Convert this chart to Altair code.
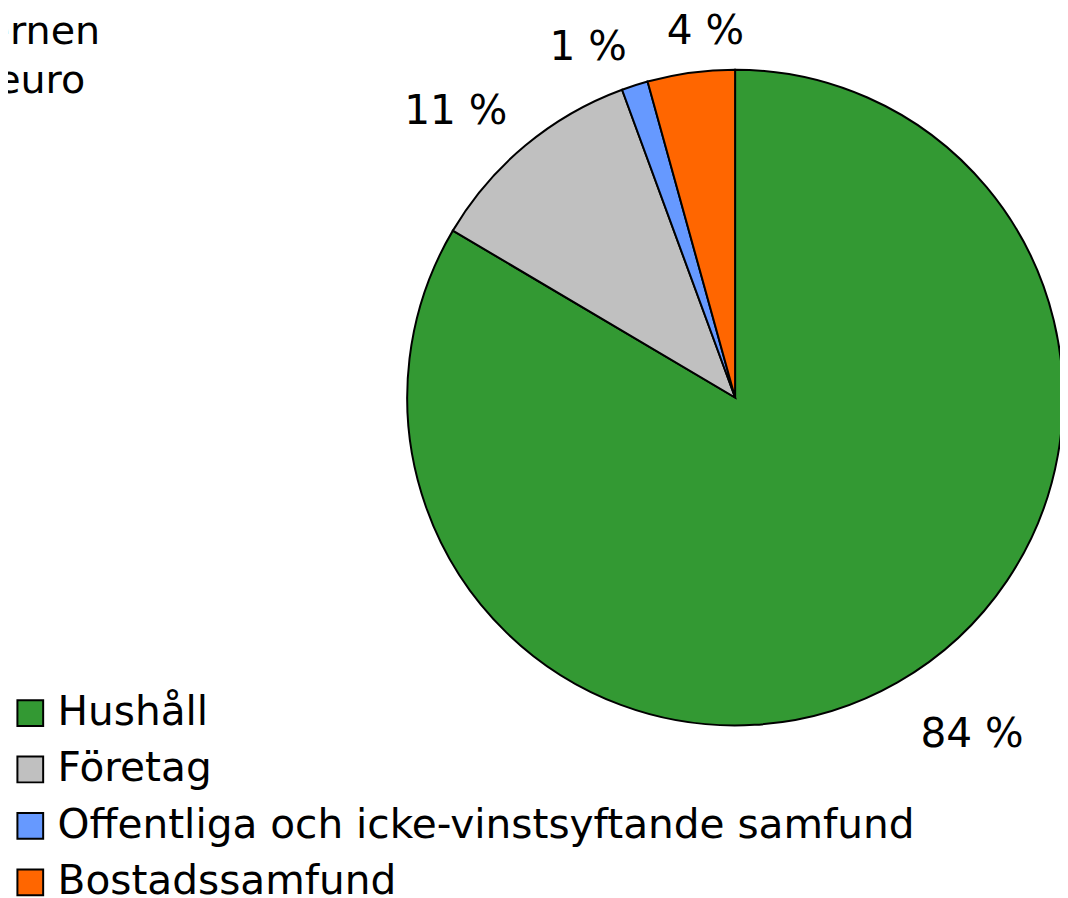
import altair as alt
import pandas as pd

categories = ["Hushåll", "Företag", "Offentliga och icke-vinstsyftande samfund", "Bostadssamfund"]
values = [83.5, 10.9, 1.3, 4.3]
labels = ["84 %", "11 %", "1 %", "4 %"]
colors = ["#339933", "#C0C0C0", "#6699FF", "#FF6600"]
title_lines = ["ernen", "euro"]

df = pd.DataFrame({"cat": categories, "val": values, "lab": labels, "idx": list(range(len(categories)))})

FONT = "DejaVu Sans"
CX, CY, R = 734, 389, 331

color_enc = alt.Color(
    "cat:N",
    scale=alt.Scale(domain=categories, range=colors),
    sort=categories,
    legend=alt.Legend(
        title=None, orient="none", legendX=2, legendY=687, direction="vertical",
        symbolType="square", symbolSize=676, symbolStrokeColor="black", symbolStrokeWidth=2,
        symbolOpacity=1, labelFont=FONT, labelFontSize=41, labelColor="black",
        labelOffset=7, rowPadding=15, padding=0, labelLimit=1000,
    ),
)

base = alt.Chart(df).encode(
    theta=alt.Theta("val:Q", stack=True),
    order=alt.Order("idx:Q"),
    x=alt.value(CX), y=alt.value(CY),
)

pie = base.mark_arc(radius=R, stroke="black", strokeWidth=2).encode(color=color_enc)

offsets = {0: (400, 41, 5), 1: (400, -26, 31), 2: (400, -26, 40), 3: (400, 24, 39)}
text_layers = []
for i, (rad, dx, dy) in offsets.items():
    t = base.transform_calculate(
        show=f"datum.idx == {i} ? datum.lab : ''"
    ).mark_text(
        radius=rad, dx=dx, dy=dy, font=FONT, fontSize=41, color="black",
        align="center", baseline="alphabetic",
    ).encode(text="show:N")
    text_layers.append(t)

title_df = pd.DataFrame({"t": title_lines})
t1 = alt.Chart(title_df).transform_filter(alt.datum.t == title_lines[0]).mark_text(
    font=FONT, fontSize=40, color="black", align="right", baseline="alphabetic"
).encode(x=alt.value(93), y=alt.value(32), text="t:N")
t2 = alt.Chart(title_df).transform_filter(alt.datum.t == title_lines[1]).mark_text(
    font=FONT, fontSize=40, color="black", align="right", baseline="alphabetic"
).encode(x=alt.value(78), y=alt.value(82), text="t:N")

chart = alt.layer(pie, *text_layers, t1, t2).properties(
    width=1062, height=890, autosize=alt.AutoSizeParams(type="none"), padding=0
).configure_view(stroke=None)

chart.save("out.html", embed_options={"renderer": "svg", "actions": False})
